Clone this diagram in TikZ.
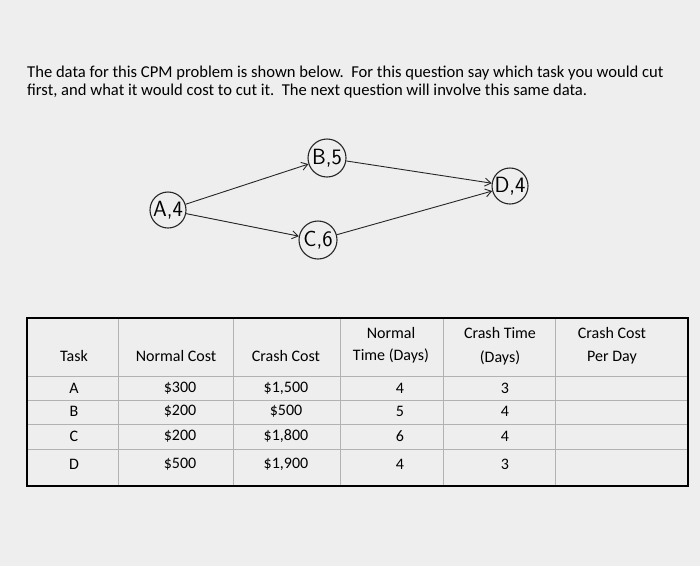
\documentclass[tikz,border=0pt]{standalone}
\usepackage{fontspec}
\setmainfont{Carlito}
\usetikzlibrary{arrows.meta}
\begin{document}
\begin{tikzpicture}[x=1pt,y=-1pt,
  txt/.style={font=\fontsize{16.6}{18}\selectfont,anchor=base west,inner sep=0},
  cell/.style={font=\fontsize{16}{18}\selectfont,inner sep=0},
  hnode/.style={draw=black!85,line width=1.1pt,circle,inner sep=0pt,minimum size=38pt,font=\fontsize{22}{22}\sffamily},
  harrow/.style={draw=black!85,line width=0.9pt,-{Straight Barb[length=6pt,width=8pt]}}]
\fill[gray!13] (0,0) rectangle (700,566);
\useasboundingbox (0,0) rectangle (700,566);
\node[txt] (t1) at (27,77) {The data for this CPM problem is shown below.\ \ For this question say which task you would cut};
\node[txt] (t2) at (27,95) {first, and what it would cost to cut it.\ \ The next question will involve this same data.};
\node[hnode] (B) at (327,158) {B,5};
\node[hnode,minimum size=36pt] (A) at (168,210) {A,4};
\node[hnode] (C) at (318,240) {C,6};
\node[hnode,minimum size=36pt] (D) at (510,186) {D,4};
\draw[harrow] (A) -- (B);
\draw[harrow] (A) -- (C);
\draw[harrow] (B) -- (D);
\draw[harrow] (C) -- (D);
% table
\draw[gray!60,line width=0.5pt]
  (118,318)--(118,486) (233,318)--(233,486) (340,318)--(340,486)
  (443,318)--(443,486) (555,318)--(555,486)
  (27,376)--(688,376) (27,400)--(688,400) (27,424)--(688,424) (27,449)--(688,449);
\draw[black,line width=1.6pt] (27,318) rectangle (688,486);
\node[cell] (h1) at (74,356) {Task};
\node[cell] (h2) at (176,356) {Normal Cost};
\node[cell] (h3) at (286,356) {Crash Cost};
\node[cell] (h4a) at (391,333) {Normal};
\node[cell] (h4b) at (391,356) {Time (Days)};
\node[cell] (h5a) at (500,333) {Crash Time};
\node[cell] (h5b) at (500,358) {(Days)};
\node[cell] (h6a) at (612,333) {Crash Cost};
\node[cell] (h6b) at (612,358) {Per Day};
\foreach \y/\t/\n/\c/\nt/\ct in {388/A/{\$300}/{\$1,500}/4/3, 411/B/{\$200}/{\$500}/5/4, 436/C/{\$200}/{\$1,800}/6/4, 464/D/{\$500}/{\$1,900}/4/3}{
  \node[cell] at (74,\y) {\t};
  \node[cell] at (180,\y) {\n};
  \node[cell] at (286,\y) {\c};
  \node[cell] at (400,\y) {\nt};
  \node[cell] at (505,\y) {\ct};
}
\end{tikzpicture}
\end{document}
